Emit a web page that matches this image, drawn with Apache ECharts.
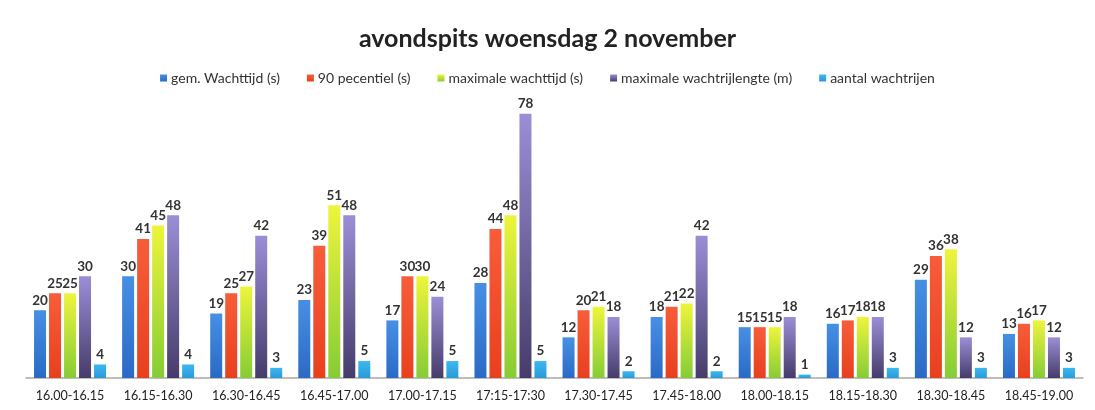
<!DOCTYPE html>
<html>
<head>
<meta charset="utf-8">
<script src="https://cdn.jsdelivr.net/npm/echarts@6/dist/echarts.min.js"></script>
<style>
  html, body { margin: 0; padding: 0; background: #fff; }
  #chart { width: 1095px; height: 410px; }
</style>
</head>
<body>
<div id="chart"></div>
<script>
// tijdvakken
const categories = ['16.00-16.15', '16.15-16.30', '16.30-16.45', '16.45-17.00', '17.00-17.15', '17:15-17:30',
    '17.30-17.45', '17.45-18.00', '18.00-18.15', '18.15-18.30', '18.30-18.45', '18.45-19.00'];

const gemWachttijd    = [20, 30, 19, 23, 17, 28, 12, 18, 15, 16, 29, 13];
const percentiel90    = [25, 41, 25, 39, 30, 44, 20, 21, 15, 17, 36, 16];
const maxWachttijd    = [25, 45, 27, 51, 30, 48, 21, 22, 15, 18, 38, 17];
const maxWachtrij     = [30, 48, 42, 48, 24, 78, 18, 42, 18, 18, 12, 12];
const aantalWachtrij  = [4, 4, 3, 5, 5, 5, 2, 2, 1, 3, 3, 3];

const seriesNames = ['gem. Wachttijd (s)', '90 pecentiel (s)', 'maximale wachttijd (s)',
    'maximale wachtrijlengte (m)', 'aantal wachtrijen'];
const seriesData = [gemWachttijd, percentiel90, maxWachttijd, maxWachtrij, aantalWachtrij];

function grad(top, bottom) {
    return new echarts.graphic.LinearGradient(0, 0, 0, 1, [
        { offset: 0, color: top },
        { offset: 1, color: bottom }
    ]);
}
const barColors = [
    grad('#4690e4', '#2a6ac6'),   // blauw
    grad('#f75d3a', '#e8401f'),   // rood
    grad('#eef43c', '#86cc36'),   // geelgroen
    grad('#9c8ed6', '#463c6a'),   // paars
    grad('#3cb8f0', '#2a9ad8')    // lichtblauw
];
const legendColors = ['#3a7fd5', '#f0502e', '#b8e23a', '#7a6eaa', '#35aee8'];

const font = 'Lato, "Open Sans", sans-serif';

const series = seriesNames.map(function (name, i) {
    return {
        name: name,
        type: 'bar',
        data: seriesData[i],
        barWidth: 12,
        barGap: '25%',
        itemStyle: { color: barColors[i] },
        label: {
            show: true,
            position: 'top',
            distance: 3,
            color: '#333',
            fontFamily: font,
            fontWeight: 'bold',
            fontSize: 13.5
        }
    };
});

const chart = echarts.init(document.getElementById('chart'));
chart.setOption({
    backgroundColor: '#fff',
    animation: false,
    color: legendColors,
    title: {
        text: 'avondspits woensdag 2 november',
        left: 'center',
        top: 21,
        textStyle: {
            fontFamily: font,
            fontWeight: 'bold',
            fontSize: 25,
            color: '#222'
        }
    },
    legend: {
        data: seriesNames,
        left: 'center',
        top: 66,
        itemWidth: 7,
        itemHeight: 7,
        itemGap: 27,
        icon: 'rect',
        textStyle: {
            fontFamily: font,
            fontSize: 14,
            color: '#333',
            padding: [0, 0, 0, -1]
        }
    },
    grid: {
        left: 26,
        right: 12,
        top: 73,
        bottom: 32
    },
    xAxis: {
        type: 'category',
        data: categories,
        axisLine: { lineStyle: { color: '#a8a8a8', width: 1.5 } },
        axisTick: { show: false },
        axisLabel: {
            color: '#222',
            fontFamily: font,
            fontSize: 12.5,
            margin: 11,
            interval: 0
        }
    },
    yAxis: {
        type: 'value',
        min: 0,
        max: 90,
        show: false,
        splitLine: { show: false }
    },
    series: series
});
</script>
</body>
</html>
